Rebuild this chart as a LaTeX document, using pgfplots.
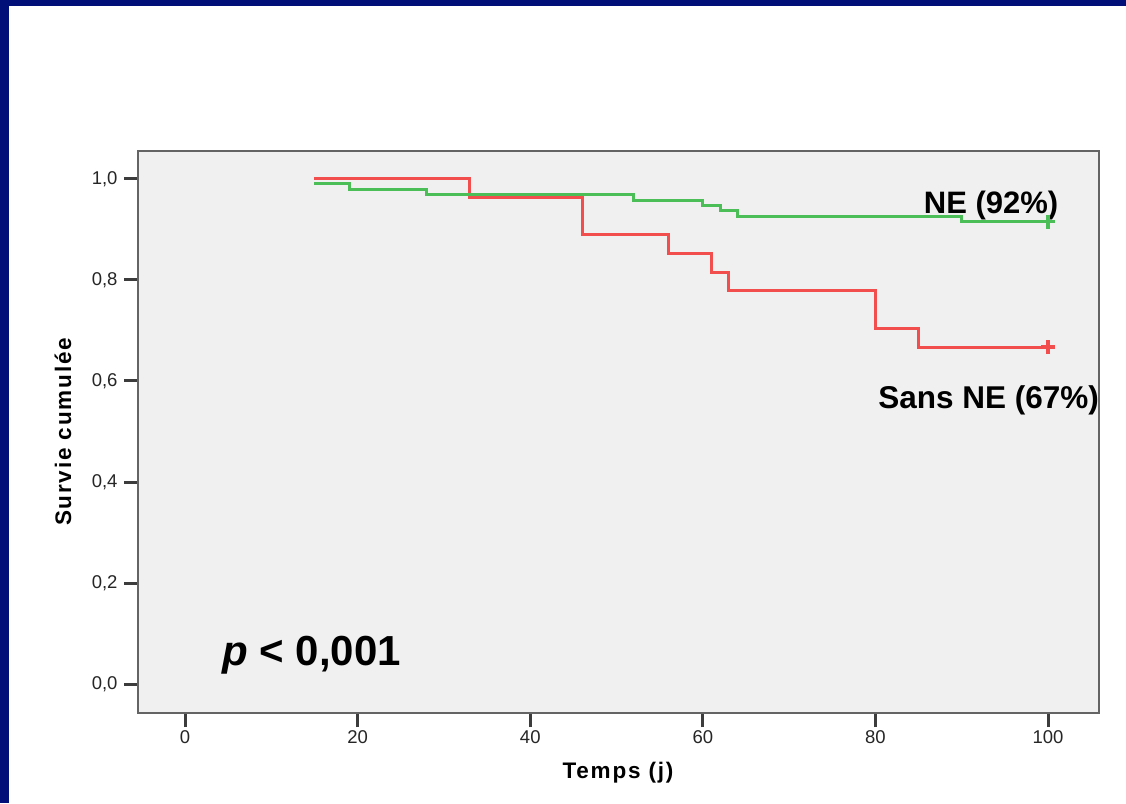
\documentclass[border=0pt]{standalone}
\usepackage{fontspec}
\setmainfont{Liberation Sans}
\newfontfamily\spaced[LetterSpace=8]{Liberation Sans}
\usepackage{pgfplots}
\pgfplotsset{compat=1.18}
\definecolor{navy}{RGB}{0,16,120}
\definecolor{bgcol}{RGB}{240,240,240}
\definecolor{framecol}{RGB}{100,100,100}
\definecolor{tickcol}{RGB}{60,60,60}
\definecolor{kmred}{RGB}{242,78,78}
\definecolor{kmgreen}{RGB}{76,190,88}
\begin{document}
\begin{tikzpicture}[x=1pt,y=1pt]
\useasboundingbox (0,0) rectangle (1126,803);
\fill[navy] (0,0) rectangle (1126,803);
\fill[white] (9,0) rectangle (1126,797);
\begin{axis}[
  at={(138pt,90pt)}, anchor=south west,
  scale only axis, width=961pt, height=562pt,
  xmin=-5.45, xmax=105.9, ymin=-0.057, ymax=1.055,
  xtick={0,20,40,60,80,100},
  ytick={0,0.2,0.4,0.6,0.8,1.0},
  xtick pos=left, ytick pos=left,
  tick align=outside,
  major tick length=14pt,
  every tick/.style={draw=tickcol, line width=3pt},
  axis line style={draw=framecol, line width=2pt},
  axis background/.style={fill=bgcol},
  /pgf/number format/assume math mode=true,
  ticklabel style={font=\fontsize{18.5}{20}\selectfont, text=black!85},
  yticklabel style={xshift=-3pt, /pgf/number format/.cd, fixed, fixed zerofill, precision=1, use comma},
  xticklabel style={/pgf/number format/.cd, fixed, precision=0},
  xlabel={Temps (j)},
  ylabel={Survie cumulée},
  label style={font=\spaced\bfseries\fontsize{22.5}{24}\selectfont},
  xlabel style={at={(axis description cs:0.4995,-0.107)}, anchor=center},
  ylabel style={at={(axis description cs:-0.078,0.5)}, anchor=center},
  clip=false,
]
\addplot[const plot, draw=kmred, line width=3pt] coordinates {
  (15,1.000) (33,0.963) (46,0.889) (56,0.852) (61,0.815) (63,0.778) (80,0.704) (85,0.667) (100,0.667)
};
\addplot[const plot, draw=kmgreen, line width=3pt] coordinates {
  (15,0.990) (19,0.979) (28,0.969) (52,0.958) (60,0.948) (62,0.937) (64,0.926) (90,0.915) (100,0.915)
};
\addplot[only marks, mark=+, mark size=7pt, draw=kmred, line width=3.2pt, every mark/.append style={line width=3.2pt}, mark options={line width=3.2pt, solid}] coordinates {(100,0.667)};
\addplot[only marks, mark=+, mark size=7pt, draw=kmgreen, line width=3.2pt, every mark/.append style={line width=3.2pt}, mark options={line width=3.2pt, solid}] coordinates {(100,0.915)};
\node[anchor=base east, inner sep=0pt, font=\bfseries\fontsize{31}{34}\selectfont] at (axis cs:101.2,0.932) {NE (92\%)};
\node[anchor=base west, inner sep=0pt, font=\bfseries\fontsize{31.5}{34}\selectfont] at (axis cs:80.3,0.545) {Sans NE (67\%)};
\node[anchor=base west, inner sep=0pt, font=\bfseries\fontsize{42}{45}\selectfont] at (axis cs:4.3,0.036) {\textit{p} < 0,001};
\end{axis}
\end{tikzpicture}
\end{document}
